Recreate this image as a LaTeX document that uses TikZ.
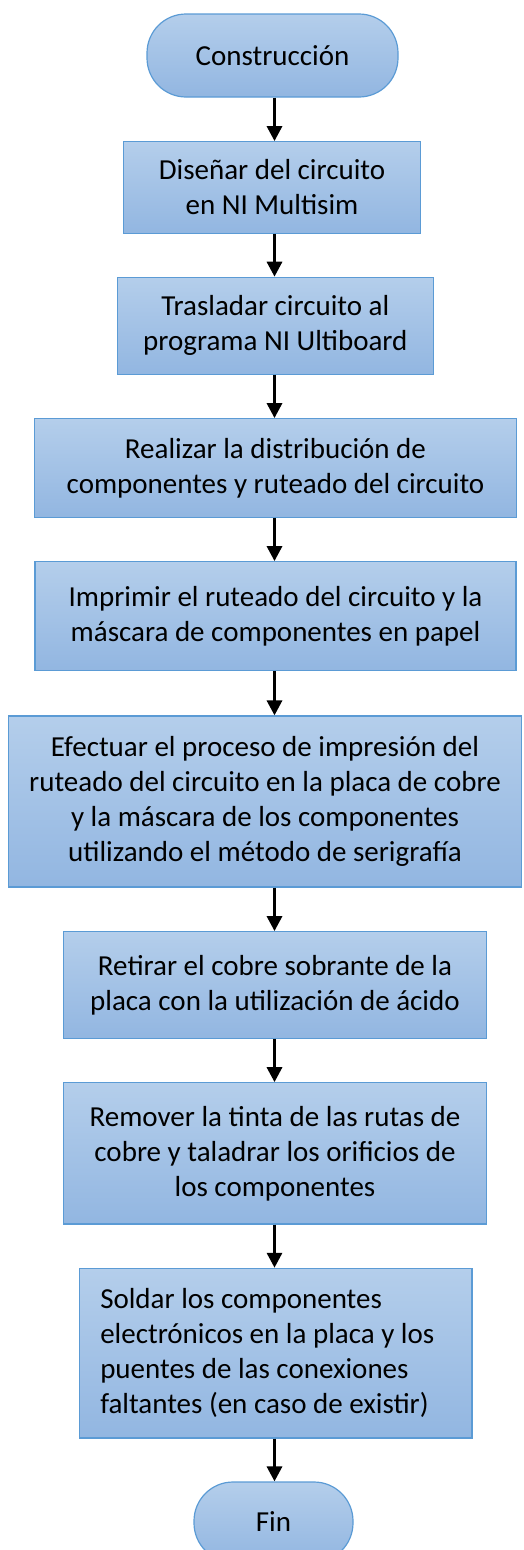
\documentclass[tikz,border=0pt]{standalone}
\usepackage{fontspec}
\setmainfont{Carlito}
\usetikzlibrary{arrows.meta}
\definecolor{boxtop}{HTML}{B4CEEB}
\definecolor{boxbot}{HTML}{92B6E1}
\definecolor{boxline}{HTML}{5B9BD5}
\tikzset{
  proc/.style={rectangle, draw=boxline, line width=1.2pt, top color=boxtop, bottom color=boxbot,
    inner sep=0pt, align=center, text=black, font=\fontsize{29}{35}\selectfont},
  term/.style={proc, rounded corners=39pt},
  arr/.style={draw=black, line width=3.2pt, -{Triangle[length=15pt,width=15pt]}}
}
\begin{document}
\begin{tikzpicture}[x=1pt,y=1pt]
\clip (0,0) rectangle (523,-1550);
\coordinate (ax) at (274.5,0);
\node[term, minimum width=251pt, minimum height=83pt] (t1) at (272.5,-55.5) {Construcción};
\node[proc, minimum width=297.7pt, minimum height=91.6pt] (b2) at (272,-187.5) {Diseñar del circuito\\en NI Multisim};
\node[proc, minimum width=316pt, minimum height=97pt] (b3) at (275.3,-325.8) {Trasladar circuito al\\programa NI Ultiboard};
\node[proc, minimum width=482.4pt, minimum height=98.6pt] (b4) at (275.5,-468) {Realizar la distribución de\\componentes y ruteado del circuito};
\node[proc, minimum width=481pt, minimum height=109pt] (b5) at (275.5,-616.2) {Imprimir el ruteado del circuito y la\\máscara de componentes en papel};
\node[proc, minimum width=513.4pt, minimum height=171pt] (b6) at (265,-801.5) {Efectuar el proceso de impresión del\\ruteado del circuito en la placa de cobre\\y la máscara de los componentes\\utilizando el método de serigrafía};
\node[proc, minimum width=423.4pt, minimum height=106.6pt] (b7) at (275,-985) {Retirar el cobre sobrante de la\\placa con la utilización de ácido};
\node[proc, minimum width=423.4pt, minimum height=141.3pt] (b8) at (275,-1153.4) {Remover la tinta de las rutas de\\cobre y taladrar los orificios de\\los componentes};
\node[proc, align=left, text width=350.7pt, inner xsep=21pt, minimum height=169.7pt] (b9) at (275.6,-1353.2) {\spaceskip=0pt\xspaceskip=0pt\relax Soldar los componentes\\electrónicos en la placa y los\\puentes de las conexiones\\faltantes (en caso de existir)};
\node[term, minimum width=159pt, minimum height=80pt] (fin) at (273.5,-1522) {Fin};
\foreach \a/\b in {t1/b2, b2/b3, b3/b4, b4/b5, b5/b6, b6/b7, b7/b8, b8/b9, b9/fin}
  \draw[arr] (\a.south -| ax) -- (\b.north -| ax);
\end{tikzpicture}
\end{document}
